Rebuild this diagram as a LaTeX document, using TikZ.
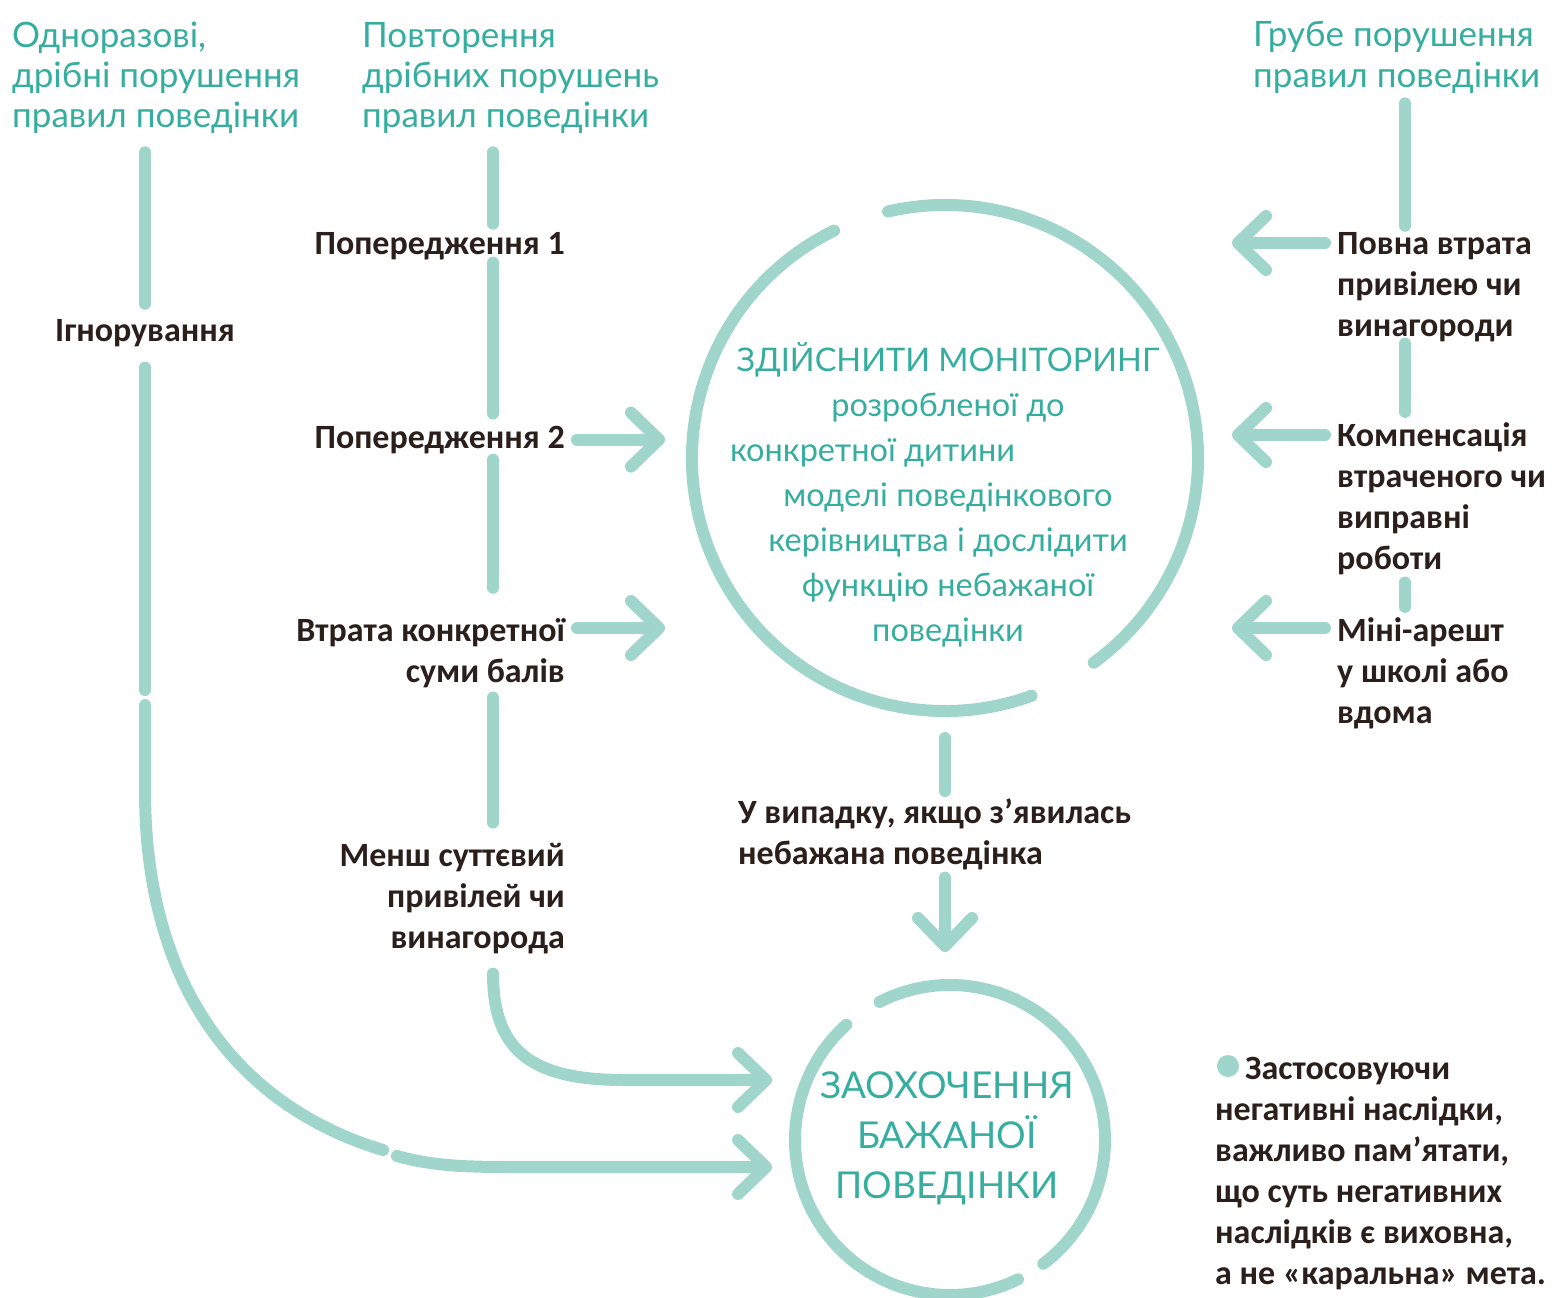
\documentclass[tikz,border=0pt]{standalone}
\usepackage{fontspec}
\setmainfont{Carlito}
\newfontfamily\roundfont{Lato}
\usepackage{xcolor}
\usetikzlibrary{arrows.meta}

\definecolor{lineteal}{HTML}{9FD5CB}
\definecolor{textteal}{HTML}{35AE9F}
\definecolor{labelbrown}{HTML}{2B1F1C}

\tikzset{
  link/.style={draw=lineteal, line width=12pt, line cap=round},
  arr/.style={link, -{Straight Barb[length=28pt, width=54pt, round]}},
  lbl/.style={inner sep=0pt, text=labelbrown, font=\fontsize{34}{41}\selectfont\bfseries},
  ttl/.style={inner sep=0pt, text=textteal, align=left, font=\roundfont\fontsize{35}{40}\selectfont},
  ring/.style={circle, draw=none, inner sep=0pt, outer sep=0pt, minimum size=#1},
}

\begin{document}
\begin{tikzpicture}[x=1pt, y=-1pt]
  \useasboundingbox (0,0) rectangle (1563,1298);

  \node[ttl, anchor=base west] (once) at (12,127) {Одноразові,\\дрібні порушення\\правил поведінки};
  \node[ttl, anchor=base west] (rep) at (362,127) {Повторення\\дрібних порушень\\правил поведінки};
  \node[ttl, anchor=base west] (gross) at (1253,87) {Грубе порушення\\правил поведінки};

  \node[lbl, anchor=base] (ign) at (145,341) {Ігнорування};
  \node[lbl, anchor=base east] (warn1) at (565,254) {Попередження 1};
  \node[lbl, anchor=base east] (warn2) at (565,448) {Попередження 2};
  \node[lbl, anchor=base east, align=right] (points) at (565,682) {Втрата конкретної\\суми балів};
  \node[lbl, anchor=base east, align=right] (minor) at (565,948) {Менш суттєвий\\привілей чи\\винагорода};
  \node[lbl, anchor=base west, align=left] (full) at (1337,336) {Повна втрата\\привілею чи\\винагороди};
  \node[lbl, anchor=base west, align=left] (comp) at (1337,569) {Компенсація\\втраченого чи\\виправні\\роботи};
  \node[lbl, anchor=base west, align=left] (arrest) at (1337,723) {Міні-арешт\\у школі або\\вдома};
  \node[lbl, anchor=base west, align=left] (cond) at (738,864) {У випадку, якщо з’явилась\\небажана поведінка};
  \node[lbl, anchor=base west, align=left] (note) at (1215,1284) {\hspace*{30pt}Застосовуючи\\негативні наслідки,\\важливо пам’ятати,\\що суть негативних\\наслідків є виховна,\\а не «каральна» мета.};
  \fill[lineteal] ([xshift=13pt,yshift=218pt]note.base west) circle (11pt);

  \node[ring=506pt] (mon) at (945,458) {};
  \node[ttl, align=center, anchor=base, font=\roundfont\fontsize{32.5}{45}\selectfont] (montext) at (948,641)
    {ЗДІЙСНИТИ МОНІТОРИНГ\\розробленої до\\\makebox[436pt][l]{конкретної дитини}\\моделі поведінкового\\керівництва і дослідити\\функцію небажаної\\поведінки};
  \node[ring=310pt] (enc) at (950,1140) {};
  \node[ttl, align=center, anchor=base, font=\roundfont\fontsize{37}{50}\selectfont] (enctext) at (947,1198)
    {ЗАОХОЧЕННЯ\\БАЖАНОЇ\\ПОВЕДІНКИ};

  \draw[link] (mon.103) arc[start angle=103, end angle=-54, radius=253pt];
  \draw[link] (mon.116) arc[start angle=116, end angle=290, radius=253pt];
  \draw[link] (enc.117) arc[start angle=117, end angle=-53, radius=155pt];
  \draw[link] (enc.132) arc[start angle=132, end angle=296, radius=155pt];

  \coordinate (colB) at (493,0);
  \coordinate (colC) at (1405,0);
  \coordinate (gapA) at (145,690);
  \coordinate (bendA) at (145,705);
  \coordinate (b1) at (397,1156);
  \coordinate (b2) at (540,1167);
  \coordinate (a2) at (625,1080);

  \draw[link, shorten <=19pt, shorten >=15pt] (once.south -| ign) -- (ign.north);
  \draw[link, shorten <=21pt] (ign.south) -- (gapA);
  \draw[link] (bendA) -- (145,790) .. controls (145,1000) and (250,1110) .. (383,1150);
  \draw[arr, shorten >=23pt] (b1) .. controls (440,1168) and (480,1167) .. (b2) -- (b2 -| enc.west);

  \draw[link, shorten <=19pt, shorten >=8pt] (colB |- rep.south) -- (colB |- warn1.north);
  \draw[link, shorten <=3pt, shorten >=12pt] (colB |- warn1.south) -- (colB |- warn2.north);
  \draw[link, shorten <=6pt, shorten >=30pt] (colB |- warn2.south) -- (colB |- points.north);
  \draw[link, shorten <=10pt, shorten >=20pt] (colB |- points.south) -- (colB |- minor.north);
  \draw[arr, shorten <=20pt, shorten >=23pt] (colB |- minor.south) .. controls +(0,100) and +(-90,0) .. (a2) -- (a2 -| enc.west);

  \draw[arr, shorten <=12pt, shorten >=27pt] (warn2.east) -- (warn2.east -| mon.west);
  \draw[arr, shorten >=27pt] ([xshift=12pt,yshift=54pt]points.base east) coordinate (pa) -- (pa -| mon.west);

  \draw[link, shorten <=10pt, shorten >=6pt] (colC |- gross.south) -- (colC |- full.north);
  \draw[link, shorten <=2pt, shorten >=10pt] (colC |- full.south) -- (colC |- comp.north);
  \draw[link, shorten <=8pt, shorten >=10pt] (colC |- comp.south) -- (colC |- arrest.north);

  \draw[arr, shorten >=34pt] ([xshift=-12pt,yshift=93pt]full.base west) coordinate (fa) -- (fa -| mon.east);
  \draw[arr, shorten >=34pt] ([xshift=-12pt,yshift=134pt]comp.base west) coordinate (ca) -- (ca -| mon.east);
  \draw[arr, shorten >=34pt] ([xshift=-12pt,yshift=95pt]arrest.base west) coordinate (ra) -- (ra -| mon.east);

  \draw[link, shorten <=27pt, shorten >=7pt] (mon.south) -- (mon.south |- cond.north);
  \draw[arr, shorten <=8pt, shorten >=33pt] (mon.south |- cond.south) -- (mon.south |- enc.north);
\end{tikzpicture}
\end{document}
